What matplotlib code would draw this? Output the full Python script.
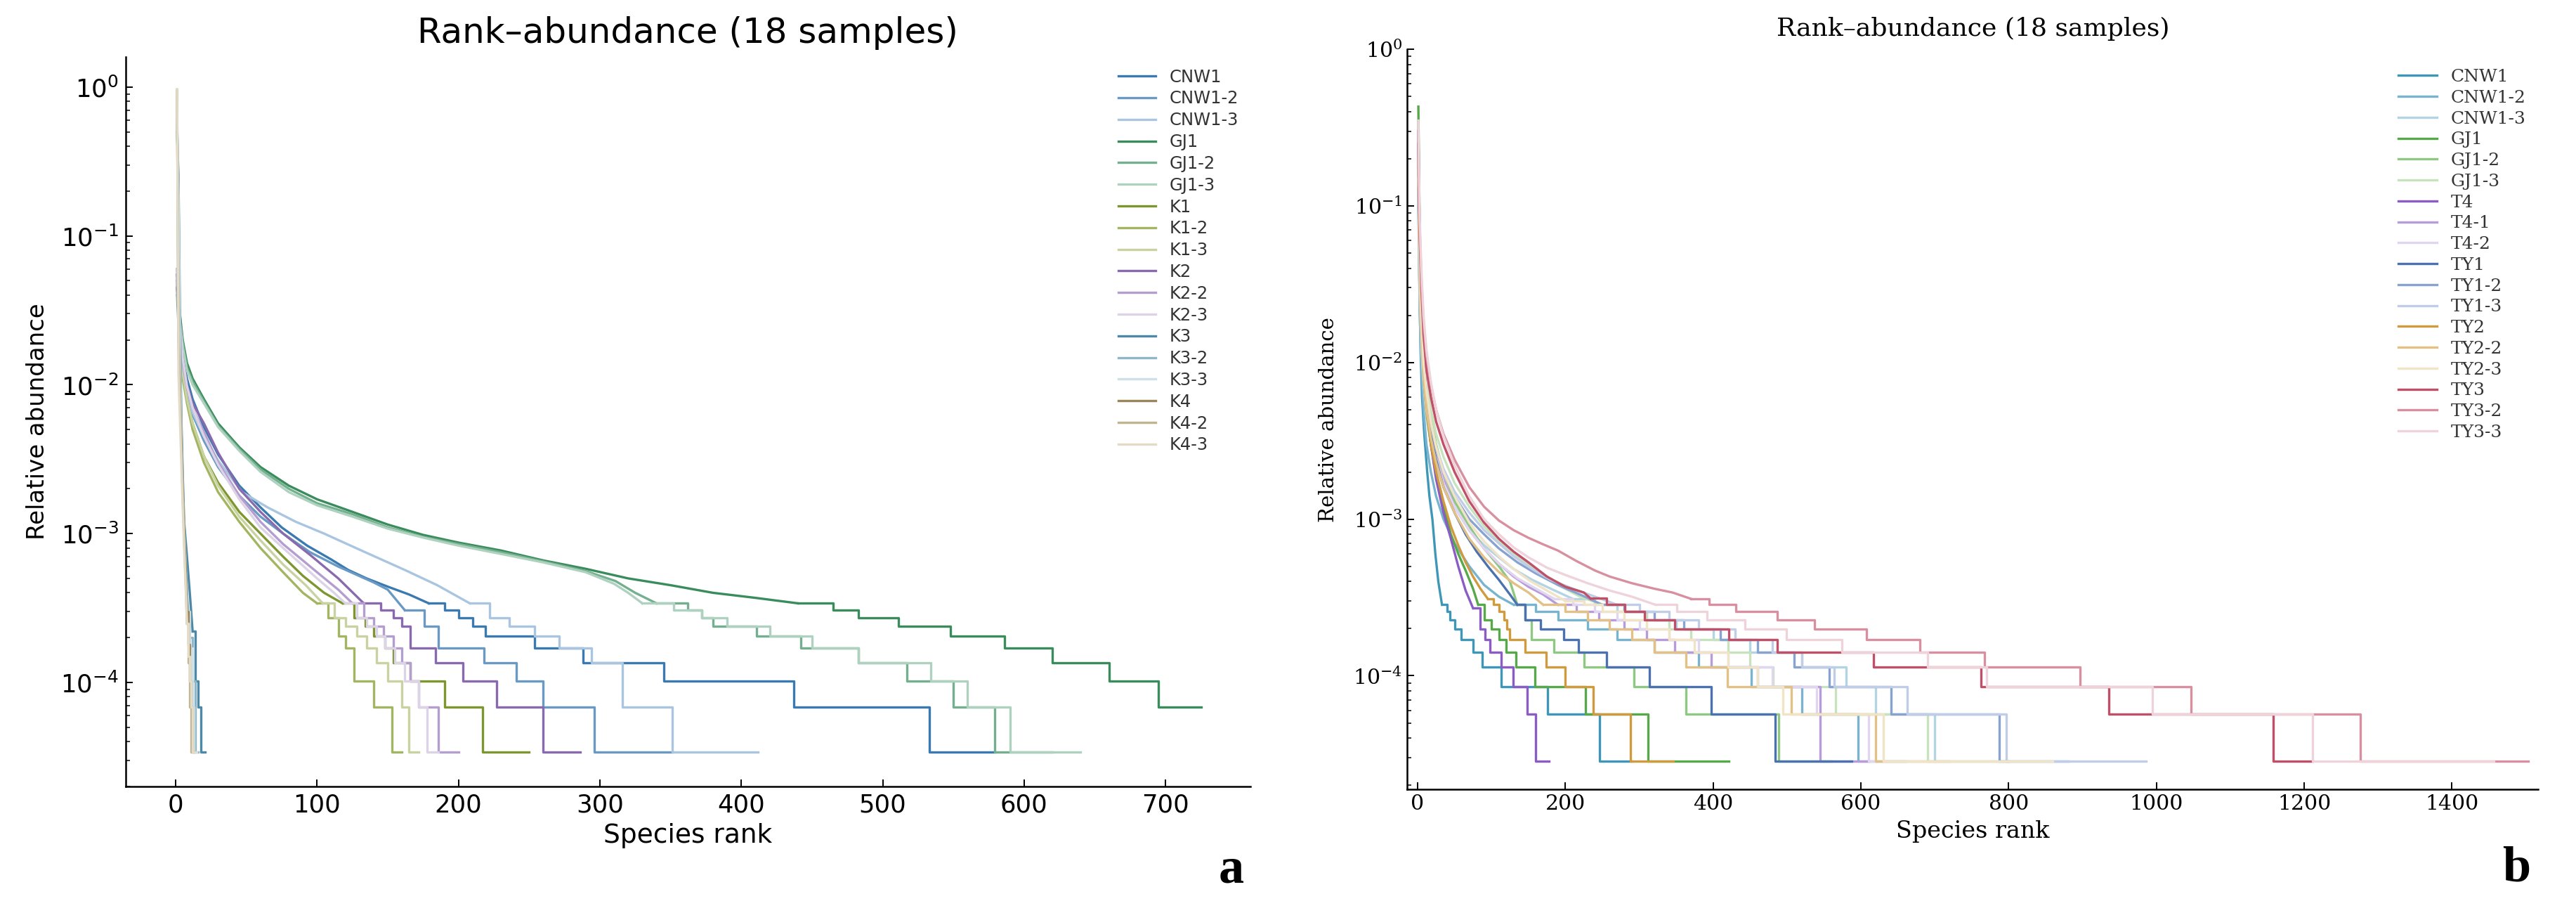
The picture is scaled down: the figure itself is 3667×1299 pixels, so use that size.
import matplotlib
matplotlib.use('Agg')
import matplotlib.pyplot as plt

# ---------------------------------------------------------------- panel a
a_names = ['CNW1', 'CNW1-2', 'CNW1-3', 'GJ1', 'GJ1-2', 'GJ1-3',
           'K1', 'K1-2', 'K1-3', 'K2', 'K2-2', 'K2-3',
           'K3', 'K3-2', 'K3-3', 'K4', 'K4-2', 'K4-3']
a_colors = ['#3b7ab0', '#6a9ac4', '#a9c5df', '#3a8c5c', '#74b08f', '#aed2bf',
            '#7d9630', '#a2b560', '#c9d3a2', '#8a6aae', '#b49dcf', '#dcd3e6',
            '#4d89a6', '#90b7c9', '#cfe0e7', '#9a8759', '#c2b48f', '#e2dbc8']

a_CNW1_r = [1, 2, 3, 5, 8, 12, 20, 30, 45, 60, 75, 93, 110, 122, 135, 150, 165, 179, 190, 200, 210, 219, 254, 288, 345, 437, 533, 579]
a_CNW1_v = [0.045, 0.03, 0.022, 0.015, 0.011, 0.008, 0.0052, 0.0034, 0.0021, 0.0015, 0.0011, 0.00083, 0.00067, 0.00057, 0.0005, 0.00044, 0.00039, 3.4e-4, 3.06e-4, 2.72e-4, 2.38e-4, 2.04e-4, 1.7e-4, 1.36e-4, 1.02e-4, 6.8e-5, 3.4e-5, 3.4e-5]
a_CNW1_2_r = [1, 2, 3, 5, 8, 12, 20, 30, 45, 60, 76, 95, 115, 140, 150, 162, 176, 186, 218, 241, 260, 296, 351]
a_CNW1_2_v = [0.04, 0.025, 0.018, 0.012, 0.0085, 0.0063, 0.0042, 0.0028, 0.0018, 0.0013, 0.001, 0.00075, 0.0006, 0.00047, 0.00042, 3.06e-4, 2.38e-4, 1.7e-4, 1.36e-4, 1.02e-4, 6.8e-5, 3.4e-5, 3.4e-5]
a_CNW1_3_r = [1, 2, 3, 5, 8, 12, 20, 30, 47, 65, 85, 105, 130, 162, 185, 208, 222, 236, 254, 271, 294, 316, 351, 412]
a_CNW1_3_v = [0.05, 0.03, 0.02, 0.013, 0.009, 0.0065, 0.0045, 0.0031, 0.0019, 0.0015, 0.0012, 0.001, 0.00078, 0.00057, 0.00045, 3.4e-4, 2.72e-4, 2.38e-4, 2.04e-4, 1.7e-4, 1.36e-4, 6.8e-5, 3.4e-5, 3.4e-5]
a_GJ1_r = [1, 2, 3, 5, 8, 12, 20, 30, 45, 60, 80, 100, 125, 150, 175, 200, 230, 260, 290, 320, 350, 380, 410, 440, 465, 483, 511, 548, 586, 620, 660, 695, 725]
a_GJ1_v = [0.06, 0.04, 0.03, 0.02, 0.014, 0.011, 0.008, 0.0055, 0.0038, 0.0028, 0.0021, 0.0017, 0.0014, 0.00115, 0.00098, 0.00087, 0.00077, 0.00066, 0.00058, 0.0005, 0.00045, 0.0004, 0.00037, 3.4e-4, 3.06e-4, 2.72e-4, 2.38e-4, 2.04e-4, 1.7e-4, 1.36e-4, 1.02e-4, 6.8e-5, 6.8e-5]
a_GJ1_2_r = [1, 2, 3, 5, 8, 12, 20, 30, 45, 60, 80, 100, 125, 150, 175, 200, 230, 260, 290, 311, 325, 340, 362, 372, 380, 411, 442, 483, 517, 550, 579, 620]
a_GJ1_2_v = [0.055, 0.038, 0.028, 0.019, 0.013, 0.0105, 0.0077, 0.0053, 0.0037, 0.0027, 0.002, 0.0016, 0.00135, 0.0011, 0.00095, 0.00085, 0.00075, 0.00065, 0.00056, 0.00048, 0.0004, 3.4e-4, 3.06e-4, 2.72e-4, 2.38e-4, 2.04e-4, 1.7e-4, 1.36e-4, 1.02e-4, 6.8e-5, 3.4e-5, 3.4e-5]
a_GJ1_3_r = [1, 2, 3, 5, 8, 12, 20, 30, 45, 60, 80, 100, 125, 150, 175, 200, 230, 260, 290, 310, 320, 330, 352, 372, 390, 420, 450, 483, 534, 560, 590, 640]
a_GJ1_3_v = [0.05, 0.035, 0.026, 0.018, 0.0125, 0.01, 0.0075, 0.0052, 0.0036, 0.0026, 0.0019, 0.00155, 0.0013, 0.00108, 0.00094, 0.00083, 0.00073, 0.00064, 0.00055, 0.00046, 0.0004, 3.4e-4, 3.06e-4, 2.72e-4, 2.38e-4, 2.04e-4, 1.7e-4, 1.36e-4, 1.02e-4, 6.8e-5, 3.4e-5, 3.4e-5]
a_K1_r = [1, 2, 3, 5, 8, 12, 20, 30, 45, 60, 76, 90, 105, 118, 126, 134, 140, 148, 154, 166, 190, 217, 250]
a_K1_v = [0.045, 0.03, 0.02, 0.012, 0.008, 0.0055, 0.0033, 0.0022, 0.0014, 0.001, 0.0007, 0.00052, 0.0004, 3.4e-4, 2.72e-4, 2.38e-4, 2.04e-4, 1.7e-4, 1.36e-4, 1.02e-4, 6.8e-5, 3.4e-5, 3.4e-5]
a_K1_2_r = [1, 2, 3, 5, 8, 12, 20, 30, 45, 60, 76, 90, 100, 108, 115, 120, 126, 140, 153, 160]
a_K1_2_v = [0.05, 0.03, 0.02, 0.011, 0.0075, 0.005, 0.003, 0.0019, 0.0012, 0.0008, 0.00055, 0.0004, 3.4e-4, 2.72e-4, 2.04e-4, 1.7e-4, 1.02e-4, 6.8e-5, 3.4e-5, 3.4e-5]
a_K1_3_r = [1, 2, 3, 5, 8, 12, 20, 30, 45, 60, 76, 92, 104, 112, 120, 128, 135, 142, 150, 160, 165, 172]
a_K1_3_v = [0.05, 0.032, 0.021, 0.012, 0.008, 0.0055, 0.0033, 0.0021, 0.0013, 0.0009, 0.00062, 0.00045, 3.4e-4, 2.72e-4, 2.38e-4, 2.04e-4, 1.7e-4, 1.36e-4, 1.02e-4, 6.8e-5, 3.4e-5, 3.4e-5]
a_K2_r = [1, 2, 3, 5, 8, 12, 20, 30, 45, 60, 76, 95, 115, 133, 145, 154, 160, 166, 184, 203, 227, 260, 286]
a_K2_v = [0.055, 0.035, 0.024, 0.015, 0.01, 0.0075, 0.0055, 0.0035, 0.002, 0.0014, 0.001, 0.00072, 0.0005, 3.4e-4, 3.06e-4, 2.72e-4, 2.38e-4, 1.7e-4, 1.36e-4, 1.02e-4, 6.8e-5, 3.4e-5, 3.4e-5]
a_K2_2_r = [1, 2, 3, 5, 8, 12, 20, 30, 45, 60, 76, 100, 115, 125, 133, 140, 147, 154, 160, 166, 172, 186, 200]
a_K2_2_v = [0.05, 0.033, 0.023, 0.014, 0.0095, 0.007, 0.0048, 0.003, 0.0018, 0.0012, 0.00085, 0.00055, 0.00042, 3.4e-4, 2.72e-4, 2.38e-4, 2.04e-4, 1.7e-4, 1.36e-4, 1.02e-4, 6.8e-5, 3.4e-5, 3.4e-5]
a_K2_3_r = [1, 2, 3, 5, 8, 12, 20, 30, 45, 60, 76, 100, 112, 120, 128, 135, 142, 148, 155, 162, 172, 178, 186]
a_K2_3_v = [0.06, 0.04, 0.026, 0.015, 0.0098, 0.007, 0.0045, 0.0029, 0.0017, 0.0011, 0.0008, 0.0005, 0.0004, 3.4e-4, 2.72e-4, 2.38e-4, 2.04e-4, 1.7e-4, 1.36e-4, 1.02e-4, 6.8e-5, 3.4e-5, 3.4e-5]
a_K3_r = [1, 2, 3, 4, 5, 6, 8, 10, 12, 14, 16, 18, 21]
a_K3_v = [0.5, 0.25, 0.03, 0.006, 0.0025, 0.0012, 0.0007, 0.0004, 0.00022, 1.02e-4, 6.8e-5, 3.4e-5, 3.4e-5]
a_K3_2_r = [1, 2, 3, 4, 5, 6, 7, 8, 10, 12, 14, 16]
a_K3_2_v = [0.55, 0.2, 0.02, 0.005, 0.002, 0.0011, 0.0007, 0.0004, 0.0002, 1.02e-4, 3.4e-5, 3.4e-5]
a_K3_3_r = [1, 2, 3, 4, 5, 6, 7, 8, 10, 12, 13, 15]
a_K3_3_v = [0.6, 0.18, 0.015, 0.004, 0.0018, 0.001, 0.0006, 0.0003, 0.00017, 6.8e-5, 3.4e-5, 3.4e-5]
a_K4_r = [1, 2, 3, 4, 5, 6, 7, 8, 9, 10, 11, 12, 13]
a_K4_v = [0.95, 0.02, 0.008, 0.004, 0.002, 0.001, 0.0006, 0.0003, 0.00018, 1.02e-4, 6.8e-5, 3.4e-5, 3.4e-5]
a_K4_2_r = [1, 2, 3, 4, 5, 6, 7, 8, 9, 10, 11, 12]
a_K4_2_v = [0.93, 0.025, 0.01, 0.004, 0.0018, 0.0009, 0.0005, 0.00025, 1.36e-4, 6.8e-5, 3.4e-5, 3.4e-5]
a_K4_3_r = [1, 2, 3, 4, 5, 6, 7, 8, 9, 10, 11, 12, 14]
a_K4_3_v = [0.97, 0.012, 0.006, 0.003, 0.0015, 0.0008, 0.00045, 0.00025, 0.00015, 1.02e-4, 6.8e-5, 3.4e-5, 3.4e-5]

# ---------------------------------------------------------------- panel b
b_names = ['CNW1', 'CNW1-2', 'CNW1-3', 'GJ1', 'GJ1-2', 'GJ1-3',
           'T4', 'T4-1', 'T4-2', 'TY1', 'TY1-2', 'TY1-3',
           'TY2', 'TY2-2', 'TY2-3', 'TY3', 'TY3-2', 'TY3-3']
b_colors = ['#3f97b8', '#78b4cf', '#b3d4e3', '#56a84a', '#8fc882', '#c6e3bd',
            '#8b5cc4', '#b79bdb', '#e0d6ef', '#4b72ae', '#88a3cf', '#bfcde6',
            '#d09a3e', '#e3c186', '#f1e3c6', '#c04f68', '#d88f9f', '#eed3da']

b_CNW1_r = [1, 2, 3, 4, 6, 9, 13, 16, 20, 24, 28, 33, 40, 43.5, 50, 59, 75, 87, 113, 176, 246, 290]
b_CNW1_v = [0.13, 0.05, 0.022, 0.012, 0.006, 0.0035, 0.002, 0.0014, 0.001, 0.0006, 0.0004, 2.84e-4, 2.56e-4, 2.27e-4, 1.99e-4, 1.7e-4, 1.42e-4, 1.136e-4, 8.52e-5, 5.68e-5, 2.84e-5, 2.84e-5]
b_CNW1_2_r = [1, 2, 3, 5, 8, 12, 18, 25, 35, 50, 70, 90, 110, 130, 160, 190, 230, 270, 320, 380, 452, 520, 596, 660]
b_CNW1_2_v = [0.1, 0.04, 0.02, 0.01, 0.005, 0.003, 0.002, 0.0014, 0.001, 0.0007, 0.0005, 0.00038, 0.00032, 2.84e-4, 2.56e-4, 2.27e-4, 1.99e-4, 1.7e-4, 1.42e-4, 1.136e-4, 8.52e-5, 5.68e-5, 2.84e-5, 2.84e-5]
b_CNW1_3_r = [1, 2, 3, 5, 8, 12, 18, 25, 35, 50, 70, 90, 110, 130, 155, 180, 210, 240, 270, 310, 350, 400, 450, 520, 580, 620, 700, 800]
b_CNW1_3_v = [0.12, 0.045, 0.024, 0.012, 0.007, 0.0045, 0.003, 0.0022, 0.0016, 0.0012, 0.00085, 0.00068, 0.00057, 0.00048, 0.00041, 0.00036, 0.00031, 2.84e-4, 2.56e-4, 2.27e-4, 1.99e-4, 1.7e-4, 1.42e-4, 1.136e-4, 8.52e-5, 5.68e-5, 2.84e-5, 2.84e-5]
b_GJ1_r = [1, 2, 3, 4, 6, 9, 13, 18, 25, 35, 45, 55, 65, 75, 82, 90, 100, 110, 120, 133, 159, 227, 312, 421]
b_GJ1_v = [0.43, 0.15, 0.06, 0.03, 0.013, 0.007, 0.0045, 0.003, 0.0019, 0.0012, 0.0008, 0.0006, 0.00047, 0.00036, 2.84e-4, 2.27e-4, 1.99e-4, 1.7e-4, 1.42e-4, 1.136e-4, 8.52e-5, 5.68e-5, 2.84e-5, 2.84e-5]
b_GJ1_2_r = [1, 2, 3, 5, 8, 12, 18, 25, 35, 50, 70, 90, 110, 125, 135, 145, 154, 184, 225, 293, 363, 489, 560]
b_GJ1_2_v = [0.35, 0.12, 0.06, 0.025, 0.012, 0.007, 0.0045, 0.003, 0.002, 0.0013, 0.0009, 0.00065, 0.0005, 0.0004, 2.84e-4, 2.27e-4, 1.7e-4, 1.42e-4, 1.136e-4, 8.52e-5, 5.68e-5, 2.84e-5, 2.84e-5]
b_GJ1_3_r = [1, 2, 3, 5, 8, 12, 18, 25, 35, 50, 70, 90, 110, 135, 160, 190, 220, 250, 280, 310, 340, 370, 420, 450, 481, 566, 690, 800]
b_GJ1_3_v = [0.3, 0.1, 0.05, 0.022, 0.012, 0.0075, 0.005, 0.0035, 0.0025, 0.0017, 0.0012, 0.0009, 0.00072, 0.00058, 0.00047, 0.00038, 0.00032, 2.84e-4, 2.56e-4, 2.27e-4, 1.99e-4, 1.7e-4, 1.42e-4, 1.136e-4, 8.52e-5, 5.68e-5, 2.84e-5, 2.84e-5]
b_T4_r = [1, 2, 3, 5, 8, 12, 18, 25, 35, 45, 55, 65, 75, 85, 91, 98, 113, 129, 148, 160, 178]
b_T4_v = [0.3, 0.12, 0.06, 0.025, 0.012, 0.006, 0.003, 0.0018, 0.0011, 0.00075, 0.0005, 0.00035, 0.00027, 1.99e-4, 1.7e-4, 1.42e-4, 1.136e-4, 8.52e-5, 5.68e-5, 2.84e-5, 2.84e-5]
b_T4_1_r = [1, 2, 3, 5, 8, 12, 18, 25, 35, 50, 70, 90, 110, 130, 150, 170, 190, 215, 245, 280, 310, 348, 397, 460, 545, 610]
b_T4_1_v = [0.25, 0.1, 0.05, 0.02, 0.01, 0.006, 0.0038, 0.0026, 0.0018, 0.0012, 0.00085, 0.00065, 0.00052, 0.00043, 0.00037, 0.00033, 2.84e-4, 2.56e-4, 2.27e-4, 1.99e-4, 1.7e-4, 1.42e-4, 1.136e-4, 8.52e-5, 2.84e-5, 2.84e-5]
b_T4_2_r = [1, 2, 3, 5, 8, 12, 18, 25, 35, 50, 70, 90, 110, 135, 160, 185, 210, 240, 270, 300, 340, 380, 420, 480, 540, 610, 700]
b_T4_2_v = [0.2, 0.08, 0.04, 0.018, 0.009, 0.0055, 0.0036, 0.0025, 0.0017, 0.0012, 0.00085, 0.00065, 0.00052, 0.00042, 0.00036, 0.00031, 2.84e-4, 2.56e-4, 2.27e-4, 1.99e-4, 1.7e-4, 1.42e-4, 1.136e-4, 8.52e-5, 5.68e-5, 2.84e-5, 2.84e-5]
b_TY1_r = [1, 2, 3, 5, 8, 12, 18, 25, 35, 50, 65, 80, 95, 110, 125, 135, 145, 166.6, 198, 217.5, 256, 314, 397, 484, 588]
b_TY1_v = [0.2, 0.08, 0.04, 0.018, 0.009, 0.0055, 0.0035, 0.0024, 0.0016, 0.0011, 0.0008, 0.00062, 0.0005, 0.00041, 0.00033, 2.84e-4, 2.27e-4, 1.99e-4, 1.7e-4, 1.42e-4, 1.136e-4, 8.52e-5, 5.68e-5, 2.84e-5, 2.84e-5]
b_TY1_2_r = [1, 2, 3, 5, 8, 12, 18, 25, 35, 50, 70, 90, 110, 135, 160, 190, 220, 250, 280, 320, 360, 410, 460, 510, 557, 641, 787, 880]
b_TY1_2_v = [0.18, 0.07, 0.035, 0.016, 0.009, 0.006, 0.004, 0.0028, 0.002, 0.0014, 0.001, 0.0008, 0.00065, 0.00053, 0.00045, 0.00038, 0.00033, 2.84e-4, 2.56e-4, 2.27e-4, 1.99e-4, 1.7e-4, 1.42e-4, 1.136e-4, 8.52e-5, 5.68e-5, 2.84e-5, 2.84e-5]
b_TY1_3_r = [1, 2, 3, 5, 8, 12, 18, 25, 35, 50, 70, 90, 110, 130, 155, 180, 210, 240, 270, 300, 340, 380, 430, 480, 520, 564, 663, 797, 986]
b_TY1_3_v = [0.15, 0.06, 0.03, 0.015, 0.0085, 0.0058, 0.004, 0.0029, 0.0021, 0.0015, 0.0011, 0.00085, 0.0007, 0.00058, 0.00048, 0.00041, 0.00036, 0.00032, 2.84e-4, 2.56e-4, 2.27e-4, 1.99e-4, 1.7e-4, 1.42e-4, 1.136e-4, 8.52e-5, 5.68e-5, 2.84e-5, 2.84e-5]
b_TY2_r = [1, 2, 3, 5, 8, 12, 18, 25, 35, 45, 55, 65, 75, 85, 95, 103, 110, 117, 121, 125, 145, 174, 200, 238, 288, 346]
b_TY2_v = [0.2, 0.08, 0.04, 0.018, 0.009, 0.005, 0.003, 0.002, 0.0013, 0.0009, 0.00068, 0.00053, 0.00043, 0.00036, 0.00031, 2.84e-4, 2.56e-4, 2.27e-4, 1.99e-4, 1.7e-4, 1.42e-4, 1.136e-4, 8.52e-5, 5.68e-5, 2.84e-5, 2.84e-5]
b_TY2_2_r = [1, 2, 3, 5, 8, 12, 18, 25, 35, 50, 70, 90, 110, 130, 150, 170, 200, 230, 260, 290, 320, 363, 419, 506, 620, 720]
b_TY2_2_v = [0.15, 0.06, 0.03, 0.015, 0.008, 0.005, 0.0033, 0.0023, 0.0016, 0.0011, 0.00075, 0.00057, 0.00046, 0.00039, 0.00034, 2.84e-4, 2.56e-4, 2.27e-4, 1.99e-4, 1.7e-4, 1.42e-4, 1.136e-4, 8.52e-5, 5.68e-5, 2.84e-5, 2.84e-5]
b_TY2_3_r = [1, 2, 3, 5, 8, 12, 18, 25, 35, 50, 70, 90, 110, 130, 150, 175, 200, 225, 250, 280, 310, 340, 375, 420, 460, 494, 630, 860]
b_TY2_3_v = [0.2, 0.08, 0.04, 0.02, 0.01, 0.0065, 0.0042, 0.0029, 0.002, 0.0014, 0.00095, 0.00072, 0.00058, 0.00048, 0.00041, 0.00035, 0.0003, 2.84e-4, 2.56e-4, 2.27e-4, 1.99e-4, 1.7e-4, 1.42e-4, 1.136e-4, 8.52e-5, 5.68e-5, 2.84e-5, 2.84e-5]
b_TY3_r = [1, 2, 3, 5, 8, 12, 18, 25, 35, 50, 70, 90, 110, 130, 150, 175, 200, 225, 234, 256, 280.5, 307, 348, 421, 487, 617, 763, 936, 1158, 1211]
b_TY3_v = [0.25, 0.1, 0.06, 0.03, 0.015, 0.009, 0.006, 0.0042, 0.003, 0.002, 0.0013, 0.00095, 0.00075, 0.00062, 0.00053, 0.00043, 0.00037, 0.00034, 3.12e-4, 2.84e-4, 2.56e-4, 2.27e-4, 1.99e-4, 1.7e-4, 1.42e-4, 1.136e-4, 8.52e-5, 5.68e-5, 2.84e-5, 2.84e-5]
b_TY3_2_r = [1, 2, 3, 5, 8, 12, 18, 25, 35, 50, 70, 90, 110, 130, 150, 170, 190, 215, 240, 260, 290, 320, 345, 370, 394.5, 431, 487, 537.5, 608, 680, 767, 897, 1047, 1276, 1503]
b_TY3_2_v = [0.3, 0.12, 0.07, 0.035, 0.018, 0.011, 0.0072, 0.005, 0.0035, 0.0024, 0.0016, 0.0012, 0.00098, 0.00085, 0.00076, 0.00069, 0.00063, 0.00054, 0.00047, 0.00043, 0.00039, 0.00036, 0.00034, 0.00031, 2.84e-4, 2.56e-4, 2.27e-4, 1.99e-4, 1.7e-4, 1.42e-4, 1.136e-4, 8.52e-5, 5.68e-5, 2.84e-5, 2.84e-5]
b_TY3_3_r = [1, 2, 3, 5, 8, 12, 18, 25, 35, 50, 70, 90, 110, 130, 150, 175, 200, 230, 260, 290, 322, 351, 392, 443, 499, 574, 690, 770, 995, 1211, 1457]
b_TY3_3_v = [0.35, 0.15, 0.08, 0.04, 0.02, 0.012, 0.0075, 0.005, 0.0034, 0.0022, 0.0014, 0.001, 0.0008, 0.00066, 0.00057, 0.00049, 0.00044, 0.00039, 0.00035, 0.00032, 2.84e-4, 2.56e-4, 2.27e-4, 1.99e-4, 1.7e-4, 1.42e-4, 1.136e-4, 8.52e-5, 5.68e-5, 2.84e-5, 2.84e-5]

a_ranks = [a_CNW1_r, a_CNW1_2_r, a_CNW1_3_r, a_GJ1_r, a_GJ1_2_r, a_GJ1_3_r,
           a_K1_r, a_K1_2_r, a_K1_3_r, a_K2_r, a_K2_2_r, a_K2_3_r,
           a_K3_r, a_K3_2_r, a_K3_3_r, a_K4_r, a_K4_2_r, a_K4_3_r]
a_vals = [a_CNW1_v, a_CNW1_2_v, a_CNW1_3_v, a_GJ1_v, a_GJ1_2_v, a_GJ1_3_v,
          a_K1_v, a_K1_2_v, a_K1_3_v, a_K2_v, a_K2_2_v, a_K2_3_v,
          a_K3_v, a_K3_2_v, a_K3_3_v, a_K4_v, a_K4_2_v, a_K4_3_v]
b_ranks = [b_CNW1_r, b_CNW1_2_r, b_CNW1_3_r, b_GJ1_r, b_GJ1_2_r, b_GJ1_3_r,
           b_T4_r, b_T4_1_r, b_T4_2_r, b_TY1_r, b_TY1_2_r, b_TY1_3_r,
           b_TY2_r, b_TY2_2_r, b_TY2_3_r, b_TY3_r, b_TY3_2_r, b_TY3_3_r]
b_vals = [b_CNW1_v, b_CNW1_2_v, b_CNW1_3_v, b_GJ1_v, b_GJ1_2_v, b_GJ1_3_v,
          b_T4_v, b_T4_1_v, b_T4_2_v, b_TY1_v, b_TY1_2_v, b_TY1_3_v,
          b_TY2_v, b_TY2_2_v, b_TY2_3_v, b_TY3_v, b_TY3_2_v, b_TY3_3_v]


def draw_panel(ax, names, colors, ranks, vals, family, fs, step_below):
    for name, col, r, v in zip(names, colors, ranks, vals):
        # smooth head (high counts) as a line, low-count tail as steps
        k = next((i for i, y in enumerate(v) if y <= step_below), len(v) - 1)
        ax.plot(r[:k + 1], v[:k + 1], color=col, lw=2.4, label=name)
        ax.step(r[k:], v[k:], where='post', color=col, lw=2.4)
    ax.set_yscale('log')
    for side in ('top', 'right'):
        ax.spines[side].set_visible(False)
    for side in ('left', 'bottom'):
        ax.spines[side].set_linewidth(1.8)
    ax.tick_params(which='both', direction='in', labelsize=fs['tick'], pad=fs['pad'])
    ax.tick_params(which='major', length=7, width=1.4)
    ax.tick_params(which='minor', length=4.5, width=1.1)
    ax.set_xlabel('Species rank', fontsize=fs['label'], family=family, labelpad=fs['xpad'])
    ax.set_ylabel('Relative abundance', fontsize=fs['ylabel'], family=family, labelpad=fs['ypad'])
    ax.set_title('Rank\u2013abundance (18 samples)', fontsize=fs['title'], family=family, pad=fs['tpad'])
    leg = ax.legend(loc='upper right', frameon=False,
                    prop={'family': family, 'size': fs['legend']},
                    labelspacing=fs['lspace'], handlelength=2.2, handletextpad=0.8,
                    borderaxespad=0.3, bbox_to_anchor=fs['anchor'])
    for t in leg.get_texts():
        t.set_color('#333333')
    return ax


fig = plt.figure(figsize=(36.67, 12.99), dpi=100)

# panel a: sans-serif
plt.rcParams['mathtext.fontset'] = 'dejavusans'
ax_a = fig.add_axes([0.0487, 0.1386, 0.4367, 0.7993])
draw_panel(ax_a, a_names, a_colors, a_ranks, a_vals, 'DejaVu Sans',
           dict(tick=25.5, label=27, ylabel=24.5, title=36, legend=17.5, pad=7,
                xpad=6, ypad=12, tpad=14, lspace=0.28, anchor=(1.0, 1.0)), 3.45e-4)
ax_a.set_xlim(-35.5, 760)
ax_a.set_ylim(2.0e-5, 1.6)
ax_a.set_xticks([0, 100, 200, 300, 400, 500, 600, 700])
for lab in ax_a.get_xticklabels() + ax_a.get_yticklabels():
    lab.set_family('DejaVu Sans')

# panel b: serif
ax_b = fig.add_axes([0.5463, 0.1353, 0.4391, 0.8108])
draw_panel(ax_b, b_names, b_colors, b_ranks, b_vals, 'DejaVu Serif',
           dict(tick=21.5, label=24, ylabel=21, title=26, legend=18, pad=5,
                xpad=6, ypad=15, tpad=14, lspace=0.27, anchor=(1.0, 0.99)), 3.15e-4)
ax_b.set_xlim(-14, 1517)
ax_b.set_ylim(1.88e-5, 1.0)
ax_b.set_xticks([0, 200, 400, 600, 800, 1000, 1200, 1400])
for lab in ax_b.get_xticklabels() + ax_b.get_yticklabels():
    lab.set_family('DejaVu Serif')

fig.text(1753 / 3667, 1 - 1255 / 1299, 'a', family='Liberation Serif', weight='bold',
         fontsize=52, ha='center', va='baseline')
fig.text(3582 / 3667, 1 - 1253 / 1299, 'b', family='Liberation Serif', weight='bold',
         fontsize=52, ha='center', va='baseline')

fig.savefig('out.png', dpi=100)
